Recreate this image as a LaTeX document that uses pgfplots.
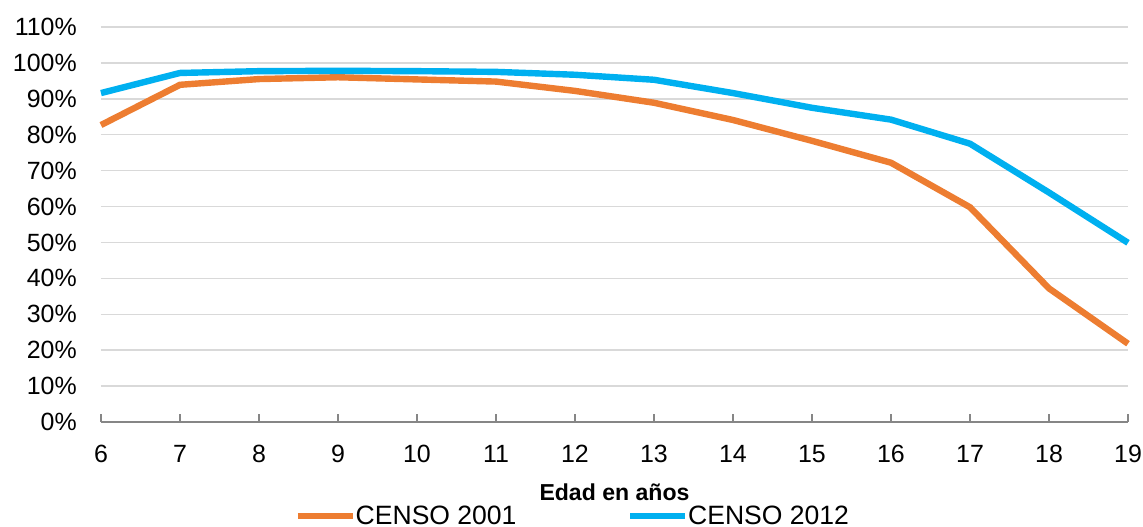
\documentclass[border=0pt]{standalone}
\usepackage{pgfplots}
\pgfplotsset{compat=1.18}
\usepackage{fontspec}
\setmainfont{Liberation Sans}
\definecolor{corange}{HTML}{ED7D31}
\definecolor{cblue}{HTML}{00B0F0}
\definecolor{cgrid}{HTML}{D9D9D9}
\definecolor{caxis}{HTML}{868686}
\begin{document}
\begin{tikzpicture}
\begin{axis}[
  at={(0,0)}, anchor=south west,
  scale only axis, width=770.25pt, height=296.25pt,
  xmin=6, xmax=19, ymin=0, ymax=110,
  xtick={6,...,19}, ytick={0,10,...,110},
  /pgf/number format/assume math mode=true,
  yticklabel={\pgfmathprintnumber{\tick}\%},
  ymajorgrids, grid style={cgrid, line width=1.1pt},
  axis x line*=bottom, axis y line*=left,
  x axis line style={caxis, line width=1.1pt, -},
  y axis line style={draw=none},
  tick align=inside, major tick length=6pt,
  xtick style={caxis, line width=1.1pt},
  ytick style={draw=none},
  tick label style={font=\fontsize{18.7}{20}\selectfont},
  xticklabel style={anchor=center, yshift=-24pt, inner sep=0pt},
  yticklabel style={anchor=east, inner sep=0pt, xshift=-18pt},
  clip=false,
  legend style={at={(axis description cs:0.5,0)}, anchor=center, xshift=-32pt, yshift=-70.5pt,
    draw=none, font=\fontsize{19.9}{22}\selectfont, legend columns=2,
    nodes={inner sep=0pt},
    /tikz/every even column/.append style={column sep=83pt}, inner sep=0pt},
  legend image code/.code={\draw[#1, line width=4.8pt] (0pt,0pt) -- (41pt,0pt);},
]
\addplot[corange, line width=4.8pt] coordinates {
(6,82.7) (7,93.9) (8,95.5) (9,96.0) (10,95.4) (11,94.8) (12,92.2) (13,88.9)
(14,84.1) (15,78.3) (16,72.2) (17,59.8) (18,37.2) (19,21.8)};
\addlegendentry{CENSO 2001}
\addplot[cblue, line width=4.8pt] coordinates {
(6,91.6) (7,97.2) (8,97.7) (9,97.8) (10,97.7) (11,97.5) (12,96.7) (13,95.3)
(14,91.6) (15,87.5) (16,84.2) (17,77.5) (18,63.9) (19,49.9)};
\addlegendentry{CENSO 2012}
\node[font=\fontsize{17.3}{19}\selectfont\bfseries, anchor=center] at ([yshift=-52.5pt]axis description cs:0.5,0) {Edad en años};
\end{axis}
\pgfresetboundingbox
\path (-75.75pt,-78.75pt) rectangle (781.5pt,316.5pt);
\end{tikzpicture}
\end{document}
